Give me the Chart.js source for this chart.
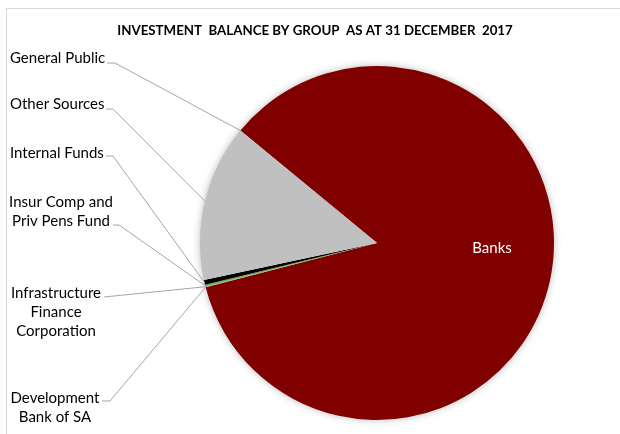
<!DOCTYPE html>
<html>
<head>
<meta charset="utf-8">
<script src="https://cdn.jsdelivr.net/npm/chart.js@4/dist/chart.umd.min.js"></script>
<style>
  html, body { margin: 0; padding: 0; background: #ffffff; }
  #wrap { position: relative; width: 620px; height: 434px; }
  canvas { display: block; }
</style>
</head>
<body>
<div id="wrap"><canvas id="pie" width="620" height="434"></canvas></div>
<script>
// Investment balance by group, share of total (%)
const chartTitle = 'INVESTMENT  BALANCE BY GROUP  AS AT 31 DECEMBER  2017';
const categories = [
  'Banks',
  'Development Bank of SA',
  'Infrastructure Finance Corporation',
  'Insur Comp and Priv Pens Fund',
  'Internal Funds',
  'Other Sources',
  'General Public'
];
const balanceShare = [85.0, 0.03, 0.05, 0.15, 0.45, 14.3, 0.02];
const labelLines = [
  ['Banks'],
  ['Development', 'Bank of SA'],
  ['Infrastructure', 'Finance', 'Corporation'],
  ['Insur Comp and', 'Priv Pens Fund'],
  ['Internal Funds'],
  ['Other Sources'],
  ['General Public']
];
const sliceColours = ['#800000', '#7f7f7f', '#a5a5a5', '#70ad47', '#000000', '#c0c0c0', '#4472c4'];

// Where the outside labels sit and where their leader lines leave from
const labelLayout = [
  null,
  { x: 55,  y: 398, align: 'center', stub: [102, 401, 110, 401] },
  { x: 56,  y: 293, align: 'center', stub: [104, 297, 104, 297] },
  { x: 61,  y: 202, align: 'center', stub: [113, 225, 119, 225] },
  { x: 10,  y: 153, align: 'left',   stub: [106, 156, 113, 156] },
  { x: 10,  y: 104, align: 'left',   stub: [106, 109, 113, 109] },
  { x: 10,  y: 58,  align: 'left',   stub: [107, 63, 115, 63] }
];
const LINE_H = 19;
const LABEL_FONT = '15px Lato, "Open Sans", sans-serif';

const frameAndTitle = {
  id: 'frameAndTitle',
  beforeDraw(chart) {
    const ctx = chart.ctx;
    ctx.save();
    ctx.strokeStyle = '#d9d9d9';
    ctx.lineWidth = 1;
    ctx.strokeRect(6.5, 8.5, 640, 460);
    ctx.fillStyle = '#000000';
    ctx.font = 'bold 13.3px Lato, "Open Sans", sans-serif';
    ctx.textAlign = 'center';
    ctx.textBaseline = 'middle';
    ctx.fillText(chartTitle, 315, 31);
    ctx.restore();
  }
};

const pieShadow = {
  id: 'pieShadow',
  beforeDatasetsDraw(chart) {
    const arc = chart.getDatasetMeta(0).data[0];
    if (!arc) return;
    const { x, y, outerRadius } = arc.getProps(['x', 'y', 'outerRadius'], true);
    const ctx = chart.ctx;
    ctx.save();
    ctx.shadowColor = 'rgba(0,0,0,0.35)';
    ctx.shadowBlur = 9;
    ctx.fillStyle = '#ffffff';
    ctx.beginPath();
    ctx.arc(x, y, outerRadius - 1, 0, Math.PI * 2);
    ctx.fill();
    ctx.restore();
  }
};

const sliceLabels = {
  id: 'sliceLabels',
  afterDatasetsDraw(chart) {
    const ctx = chart.ctx;
    const meta = chart.getDatasetMeta(0);
    ctx.save();
    ctx.font = LABEL_FONT;
    ctx.textBaseline = 'middle';
    meta.data.forEach((arc, i) => {
      const p = arc.getProps(['x', 'y', 'startAngle', 'endAngle', 'outerRadius'], true);
      const mid = (p.startAngle + p.endAngle) / 2;
      if (i === 0) {
        // label inside the largest slice
        ctx.fillStyle = '#ffffff';
        ctx.textAlign = 'center';
        ctx.fillText(labelLines[i][0], p.x + p.outerRadius * 0.65, p.y + 5);
        return;
      }
      const lay = labelLayout[i];
      const tx = p.x + p.outerRadius * Math.cos(mid);
      const ty = p.y + p.outerRadius * Math.sin(mid);
      ctx.strokeStyle = '#a6a6a6';
      ctx.lineWidth = 1;
      ctx.beginPath();
      ctx.moveTo(lay.stub[0], lay.stub[1]);
      ctx.lineTo(lay.stub[2], lay.stub[3]);
      ctx.lineTo(tx, ty);
      ctx.stroke();
      ctx.fillStyle = '#000000';
      ctx.textAlign = lay.align;
      labelLines[i].forEach((line, k) => ctx.fillText(line, lay.x, lay.y + k * LINE_H));
    });
    ctx.restore();
  }
};

new Chart(document.getElementById('pie'), {
  type: 'pie',
  data: {
    labels: categories,
    datasets: [{
      data: balanceShare,
      backgroundColor: sliceColours,
      borderWidth: 0
    }]
  },
  options: {
    responsive: false,
    animation: false,
    rotation: 309.5,
    layout: { padding: { left: 200, right: 66, top: 66, bottom: 14 } },
    plugins: {
      legend: { display: false },
      tooltip: { enabled: false },
      title: { display: false }
    }
  },
  plugins: [frameAndTitle, pieShadow, sliceLabels]
});
</script>
</body>
</html>
